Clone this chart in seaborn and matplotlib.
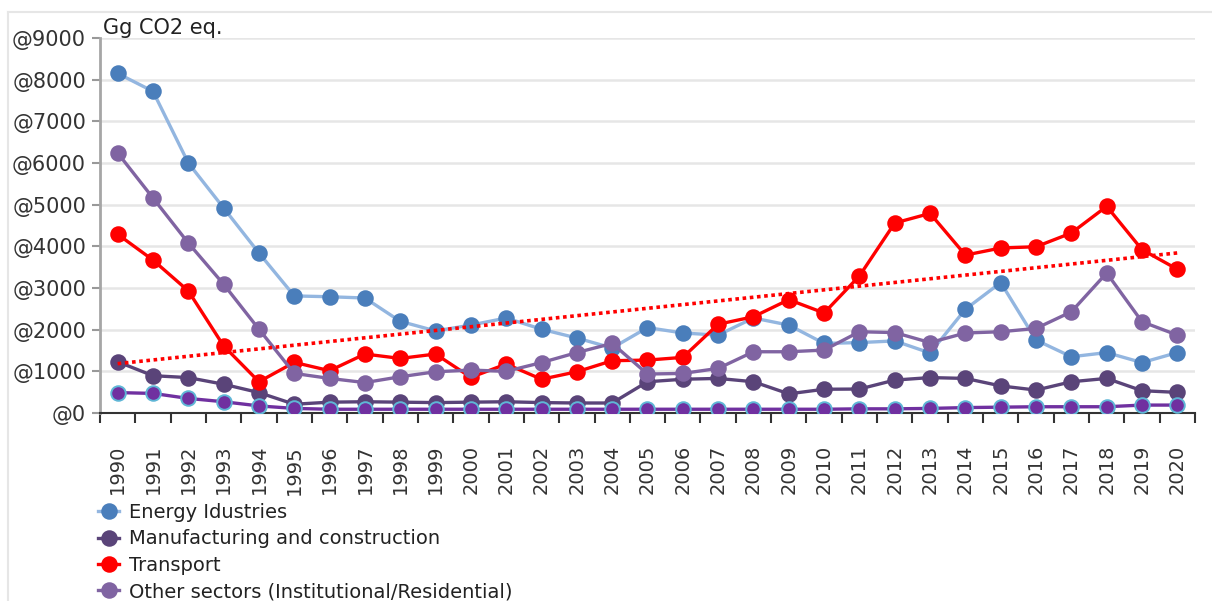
import numpy as np
import pandas as pd
import matplotlib
matplotlib.use("Agg")
import matplotlib.pyplot as plt
from matplotlib.lines import Line2D
import seaborn as sns

years = list(range(1990, 2021))

energy = [8150, 7720, 6000, 4920, 3840, 2810, 2790, 2760, 2200, 1970,
          2110, 2280, 2010, 1800, 1560, 2050, 1920, 1870, 2280, 2110,
          1670, 1690, 1730, 1440, 2490, 3130, 1750, 1350, 1450, 1210, 1450]
manufacturing = [1230, 895, 850, 690, 490, 210, 260, 270, 260, 250,
                 260, 270, 250, 240, 240, 750, 810, 830, 750, 460,
                 570, 575, 790, 850, 830, 650, 550, 750, 830, 535, 495]
transport = [4290, 3670, 2930, 1610, 750, 1215, 1015, 1415, 1310, 1415,
             855, 1175, 810, 990, 1255, 1270, 1335, 2130, 2310, 2720,
             2400, 3290, 4560, 4790, 3790, 3960, 3990, 4320, 4960, 3920, 3450]
other_sectors = [6240, 5160, 4080, 3090, 2010, 950, 830, 730, 870, 990,
                 1030, 1000, 1210, 1450, 1670, 935, 950, 1070, 1470, 1470,
                 1510, 1950, 1930, 1690, 1920, 1950, 2030, 2430, 3360, 2190, 1870]
fifth_series = [490, 470, 350, 270, 170, 110, 90, 90, 90, 90,
                90, 90, 90, 90, 90, 90, 90, 90, 90, 90,
                90, 100, 100, 110, 130, 140, 150, 150, 150, 190, 190]

labels = ["Energy Idustries", "Manufacturing and construction", "Transport",
          "Other sectors (Institutional/Residential)"]
y_ticks = list(range(0, 9001, 1000))

df = pd.DataFrame({"pos": np.arange(len(years)), "year": years,
                   "energy": energy, "manufacturing": manufacturing,
                   "transport": transport, "other": other_sectors,
                   "fifth": fifth_series})

fig = plt.figure(figsize=(12.12, 6.01), dpi=100)
ax = fig.add_axes([100 / 1212, 188 / 601, 1095 / 1212, 375 / 601])

# light frame of the container
fig.add_artist(Line2D([8 / 1212, 1], [1 - 12 / 601, 1 - 12 / 601],
                      transform=fig.transFigure, color="#e6e6e6", lw=1.5))
fig.add_artist(Line2D([8 / 1212, 8 / 1212], [0, 1 - 12 / 601],
                      transform=fig.transFigure, color="#e6e6e6", lw=1.5))

series = [
    ("energy", labels[0], "#93b6e0", "#4a7ebb", "#4a7ebb"),
    ("manufacturing", labels[1], "#5a4479", "#5a4479", "#5a4479"),
    ("transport", labels[2], "#ff0000", "#ff0000", "#ff0000"),
    ("other", labels[3], "#8064a2", "#8064a2", "#8064a2"),
    ("fifth", "_nolegend_", "#7030a0", "#7030a0", "#5fb6d6"),
]
for col, lab, lc, fc, ec in series:
    sns.lineplot(data=df, x="pos", y=col, ax=ax, color=lc, lw=2.4,
                 marker="o", markersize=10.5, markerfacecolor=fc,
                 markeredgecolor=ec, markeredgewidth=1.4, label=lab, zorder=3)

# linear trend of transport
coef = np.polyfit(df["pos"], df["transport"], 1)
trend = np.polyval(coef, df["pos"])
sns.lineplot(x=df["pos"], y=trend, ax=ax, color="#ff0000", lw=2.6,
             linestyle=(0, (1, 1)), zorder=4)

ax.set_xlim(-0.5, len(years) - 0.5)
ax.set_ylim(0, 9000)
ax.set_yticks(y_ticks)
ax.set_yticklabels([f"@{v}" for v in y_ticks], fontsize=15, color="#333333")
ax.set_xticks(df["pos"])
ax.set_xticklabels([str(y) for y in years], rotation=90, fontsize=14,
                   color="#333333")
ax.set_xticks(np.arange(-0.5, len(years)), minor=True)
ax.tick_params(axis="x", which="major", length=0, pad=23)
ax.tick_params(axis="x", which="minor", length=7, width=1.5, color="#333333")
ax.tick_params(axis="y", length=6, width=1.5, color="#999999", pad=4)
ax.grid(axis="y", color="#e6e6e6", lw=1.8, zorder=0)
ax.set_axisbelow(True)
for s in ["top", "right"]:
    ax.spines[s].set_visible(False)
ax.spines["left"].set_color("#a6a6a6")
ax.spines["left"].set_linewidth(2)
ax.spines["bottom"].set_color("#333333")
ax.spines["bottom"].set_linewidth(1.5)
ax.set_xlabel("")
ax.set_ylabel("")
ax.text(0.003, 1.0, "Gg CO2 eq.", transform=ax.transAxes, fontsize=15,
        color="#222222", ha="left", va="bottom")

handles, labs = ax.get_legend_handles_labels()
ax.get_legend().remove()
fig.legend(handles[:4], labs[:4], loc="upper left",
           bbox_to_anchor=(98 / 1212, 1 - 503 / 601), frameon=False,
           fontsize=14, handlelength=1.1, handletextpad=0.5,
           labelspacing=0.38, borderpad=0, borderaxespad=0,
           labelcolor="#222222")

fig.savefig("out.png", dpi=100)
